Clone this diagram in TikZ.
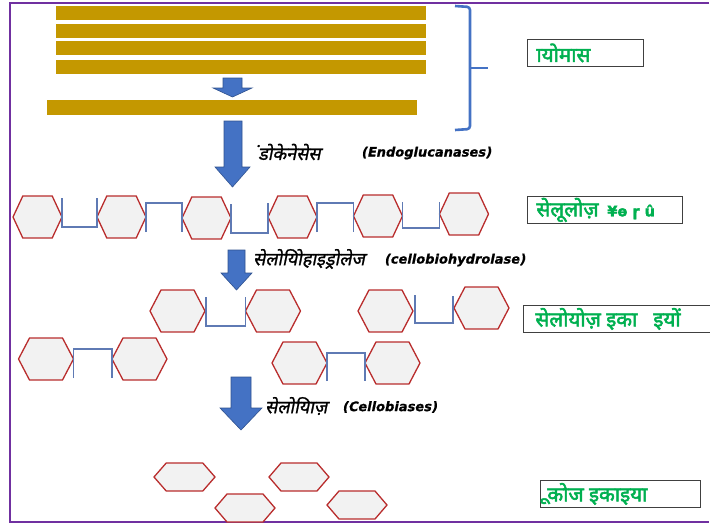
\documentclass[tikz,border=0pt]{standalone}
\usepackage{fontspec}
\setmainfont{Noto Sans}
\newfontfamily\devb[Script=Devanagari,FakeBold=2.5]{Noto Sans}
\newfontfamily\devsl[Script=Devanagari,FakeSlant=0.2,FakeBold=1.2]{Noto Sans}
\newfontfamily\devrawb[FakeBold=2.5]{Noto Sans}
\newfontfamily\devrawsl[FakeSlant=0.2,FakeBold=1.2]{Noto Sans}
\newfontfamily\latf[FakeSlant=0.2,FakeBold=1]{DejaVu Sans}
\newfontfamily\symf[FakeBold=2]{DejaVu Sans}
\usetikzlibrary{calc}
\definecolor{gold}{RGB}{196,152,0}
\definecolor{arrblue}{RGB}{68,114,196}
\definecolor{arredge}{RGB}{47,82,143}
\definecolor{linkblue}{RGB}{95,122,180}
\definecolor{hexred}{RGB}{185,45,45}
\definecolor{hexfill}{RGB}{242,242,242}
\definecolor{lblgreen}{RGB}{0,176,80}
\definecolor{framec}{RGB}{112,48,160}
\tikzset{
  hexst/.style={draw=hexred, fill=hexfill, line width=1.3pt, line join=miter},
  link/.style={draw=linkblue, line width=1.8pt},
  bar/.style={fill=gold, draw=none},
  blockarrow/.style={fill=arrblue, draw=arredge, line width=0.6pt},
  lbox/.style={draw=black!75, line width=0.9pt, fill=white, inner sep=0pt,
    minimum height=27pt, anchor=north west, text=lblgreen,
    font=\devb\fontsize{20.5}{20.5}\selectfont},
  dlabel/.style={anchor=west, inner sep=0pt, font=\devsl\fontsize{18}{18}\selectfont},
  elabel/.style={anchor=west, inner sep=0pt, font=\latf\bfseries\fontsize{13}{13}\selectfont}
}
\newcommand\hexa[5]{%
  \coordinate (#1) at (#2,#3);
  \draw[hexst] ({#2-#4/2},#3) -- ({#2-0.3*#4},{#3-#5/2}) -- ({#2+0.3*#4},{#3-#5/2})
    -- ({#2+#4/2},#3) -- ({#2+0.3*#4},{#3+#5/2}) -- ({#2-0.3*#4},{#3+#5/2}) -- cycle;}
% down block arrow: xl xr shaftl shaftr ytop yhead ytip
\newcommand\blkdown[7]{%
  \draw[blockarrow] (#3,#5) -- (#4,#5) -- (#4,#6) -- (#2,#6) -- ({(#1+#2)/2},#7)
    -- (#1,#6) -- (#3,#6) -- cycle;}
\begin{document}
\begin{tikzpicture}[x=1pt,y=-1pt]
\useasboundingbox (0,0) rectangle (710,525);
% frame
\draw[framec, line width=1.6pt] (709,3) -- (10,3) -- (10,522) -- (709,522);
% bars
\fill[bar] (56,6) rectangle (426,20);
\fill[bar] (56,24) rectangle (426,38);
\fill[bar] (56,41) rectangle (426,55);
\fill[bar] (56,60) rectangle (426,74);
\fill[bar] (47,100) rectangle (417,115);
\blkdown{213}{252}{223}{242}{78}{88}{97}
% brace
\draw[arrblue, line width=2.6pt, rounded corners=3pt] (455,6) -- (470,7) -- (470,129) -- (455,130);
\draw[arrblue, line width=2.6pt] (470,68) -- (488,68);
\node[lbox, minimum width=116pt] (b1) at (527,39) {\makebox[116pt][l]{\hspace{9pt}{\devrawb ा}योमास}};
% arrow 1
\blkdown{215}{250}{224}{242}{121}{167}{187}
\node[dlabel] (t1) at (258,152) {{\devrawsl ं}डोकेनेसेस};
\node[elabel] (e1) at (361,153) {(Endoglucanases)};
% cellulose row
\hexa{a1}{37.5}{217}{49}{42}
\hexa{a2}{121.5}{217}{49}{42}
\hexa{a3}{206.5}{218}{49}{42}
\hexa{a4}{292.5}{217}{49}{42}
\hexa{a5}{378}{216}{49}{42}
\hexa{a6}{464}{214}{49}{42}
\draw[link] ($(a1)+(24.5,-19)$) -- ($(a1)+(24.5,10)$) -| ($(a2)+(-24.5,-19)$);
\draw[link] ($(a2)+(24.5,15)$) -- ($(a2)+(24.5,-14)$) -| ($(a3)+(-24.5,14)$);
\draw[link] ($(a3)+(24.5,-14)$) -- ($(a3)+(24.5,15)$) -| ($(a4)+(-24.5,-14)$);
\draw[link] ($(a4)+(24.5,15)$) -- ($(a4)+(24.5,-14)$) -| ($(a5)+(-24.5,16)$);
\draw[link] ($(a5)+(24.5,-14)$) -- ($(a5)+(24.5,12)$) -| ($(a6)+(-24.5,-12)$);
\node[lbox, minimum width=155pt] (b2) at (527,196) {\makebox[155pt][l]{\hspace{9pt}सेलूलोज़ \,{\symf\bfseries\fontsize{14.5}{14.5}\selectfont ¥ɵ ɼ û}}};
% arrow 2
\blkdown{221}{252}{228}{245}{250}{273}{290}
\node[dlabel] (t2) at (253,259) {सेलोयि{\devrawsl ो}हाइड्रोलेज};
\node[elabel] (e2) at (384,260) {(cellobiohydrolase)};
% cellobiose units
\hexa{c1}{177.5}{311}{55}{42}
\hexa{c2}{273}{311}{55}{42}
\draw[link] ($(c1)+(28.5,-14)$) -- ($(c1)+(28.5,15)$) -| ($(c2)+(-27.5,-14)$);
\hexa{c3}{385.5}{311}{55}{42}
\hexa{c4}{481.5}{308}{55}{42}
\draw[link] ($(c3)+(29.5,-16)$) -- ($(c3)+(29.5,12)$) -| ($(c4)+(-28.5,-12)$);
\hexa{c5}{46}{359}{55}{42}
\hexa{c6}{139.5}{359}{55}{42}
\draw[link] ($(c5)+(27.5,19)$) -- ($(c5)+(27.5,-10)$) -| ($(c6)+(-27.5,19)$);
\hexa{c7}{299.5}{363}{55}{42}
\hexa{c8}{392.5}{363}{55}{42}
\draw[link] ($(c7)+(27.5,18)$) -- ($(c7)+(27.5,-10)$) -| ($(c8)+(-27.5,18)$);
\node[lbox, minimum width=187pt] (b3) at (523,305) {\makebox[187pt][l]{\hspace{12pt}सेलोयोज़ इका \ \ इयों}};
% arrow 3
\blkdown{220}{262}{231}{251}{377}{408}{430}
\node[dlabel] (t3) at (265,406) {सेलोयि{\devrawsl ा}ज़};
\node[elabel] (e3) at (342,407) {(Cellobiases)};
% glucose units
\hexa{g1}{184.5}{477}{61}{28}
\hexa{g2}{245}{508}{60}{28}
\hexa{g3}{299}{477}{60}{28}
\hexa{g4}{357}{505}{60}{28}
\node[lbox, minimum width=160pt] (b4) at (540,480) {\makebox[160pt][l]{\hspace{7pt}\raisebox{3pt}{\devrawb ू}कोज इकाइया}};
\end{tikzpicture}
\end{document}
